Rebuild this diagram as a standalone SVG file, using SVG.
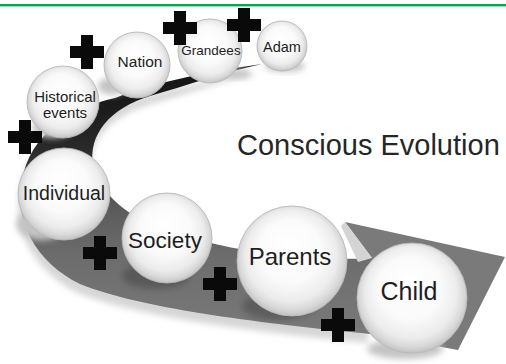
<svg xmlns="http://www.w3.org/2000/svg" xmlns:xlink="http://www.w3.org/1999/xlink" width="506" height="364" viewBox="0 0 506 364">
  <style>
    .lbl { font-family: "Liberation Sans", Arial, sans-serif; fill: #1e1e1e; text-anchor: middle; }
    .title { font-family: "Liberation Sans", Arial, sans-serif; fill: #262626; font-size: 29px; }
    .sphere { fill: url(#sphereFill); stroke: #b9b9b9; stroke-width: 0.9; }
    .plus { fill: #0a0a0a; }
    .shade-light { fill: #c4c4c4; filter: url(#soft); }
    .shade-dark { fill: #000; opacity: 0.2; filter: url(#soft); }
  </style>
  <defs>
    <radialGradient id="sphereFill" cx="50%" cy="48%" r="52%" fx="46%" fy="32%">
      <stop offset="0" stop-color="#ffffff"/>
      <stop offset="0.55" stop-color="#fafafa"/>
      <stop offset="0.8" stop-color="#ececec"/>
      <stop offset="0.92" stop-color="#d8d8d8"/>
      <stop offset="1" stop-color="#c2c2c2"/>
    </radialGradient>
    <linearGradient id="bandFill" gradientUnits="userSpaceOnUse" x1="0" y1="60" x2="0" y2="340">
      <stop offset="0" stop-color="#151515"/>
      <stop offset="0.18" stop-color="#1c1c1c"/>
      <stop offset="0.32" stop-color="#2a2a2a"/>
      <stop offset="0.52" stop-color="#5a5a5a"/>
      <stop offset="0.71" stop-color="#6d6d6d"/>
      <stop offset="1" stop-color="#7a7a7a"/>
    </linearGradient>
    <filter id="soft" x="-30%" y="-30%" width="160%" height="160%">
      <feGaussianBlur stdDeviation="3"/>
    </filter>
    <path id="plus" d="M -6 -17 H 6 V -6 H 17 V 6 H 6 V 17 H -6 V 6 H -17 V -6 H -6 Z"/>
    <path id="bandShape" d="M 262 64 C 220 70 160 80 115 98 C 70 108 30 135 22 180 C 14 220 35 262 80 284 C 140 308 250 322 370 334 L 372 258 C 310 262 230 252 165 230 C 130 218 100 195 93 165 C 88 135 110 108 150 96 C 185 86 225 72 262 64 Z"/>
  </defs>

  <rect width="506" height="364" fill="#ffffff"/>
  <rect x="0" y="4" width="506" height="2.4" fill="#16a04e"/>

  <g id="title">
    <text class="title" x="237" y="155">Conscious Evolution</text>
  </g>

  <!-- curved arrow band with its soft ground shadow -->
  <g id="connectors">
    <use xlink:href="#bandShape" transform="translate(-2 9)" fill="#d6d6d6" filter="url(#soft)"/>
    <use xlink:href="#bandShape" fill="url(#bandFill)"/>
    <polygon points="345,222 505,257 458,350 370,334 372,258" fill="#7a7a7a"/>
    <polygon points="345,222 372,258 358,262 341,226" fill="#d4d4d4"/>
  </g>

  <g id="node-adam">
    <ellipse class="shade-light" cx="285" cy="66" rx="20" ry="6"/>
    <circle class="sphere" cx="282" cy="46" r="25"/>
    <text class="lbl" x="282" y="52" font-size="14.5">Adam</text>
  </g>

  <g id="node-grandees">
    <ellipse class="shade-light" cx="236" cy="74" rx="16" ry="5"/>
    <circle class="sphere" cx="210" cy="51" r="32"/>
    <text class="lbl" x="211" y="55" font-size="13.5" fill="#333">Grandees</text>
  </g>

  <g id="node-nation">
    <ellipse class="shade-light" cx="112" cy="86" rx="14" ry="9"/>
    <circle class="sphere" cx="137" cy="65" r="33"/>
    <text class="lbl" x="140" y="67" font-size="15.5">Nation</text>
  </g>

  <g id="node-historical-events">
    <ellipse class="shade-light" cx="52" cy="128" rx="20" ry="10"/>
    <circle class="sphere" cx="63" cy="102" r="36"/>
    <text class="lbl" x="65" y="102" font-size="15" fill="#333">Historical</text>
    <text class="lbl" x="65" y="118" font-size="15" fill="#333">events</text>
  </g>

  <g id="node-individual">
    <ellipse class="shade-light" cx="42" cy="224" rx="26" ry="16"/>
    <circle class="sphere" cx="64" cy="194" r="46"/>
    <text class="lbl" x="64" y="200" font-size="19.5">Individual</text>
  </g>

  <g id="node-society">
    <ellipse class="shade-dark" cx="156" cy="276" rx="34" ry="13"/>
    <circle class="sphere" cx="167" cy="238" r="45"/>
    <text class="lbl" x="165" y="248" font-size="22.5">Society</text>
  </g>

  <g id="node-parents">
    <ellipse class="shade-dark" cx="278" cy="306" rx="36" ry="14"/>
    <circle class="sphere" cx="292" cy="261" r="55"/>
    <text class="lbl" x="290" y="265" font-size="24">Parents</text>
  </g>

  <g id="node-child">
    <ellipse class="shade-light" cx="405" cy="349" rx="38" ry="10"/>
    <circle class="sphere" cx="412" cy="298" r="55"/>
    <text class="lbl" x="409" y="300" font-size="25">Child</text>
  </g>

  <!-- plus signs between the spheres -->
  <g id="plus-signs" class="plus">
    <use xlink:href="#plus" x="180" y="28"/>
    <use xlink:href="#plus" x="244" y="25"/>
    <use xlink:href="#plus" x="87" y="52"/>
    <use xlink:href="#plus" x="25" y="137"/>
    <use xlink:href="#plus" x="100" y="253"/>
    <use xlink:href="#plus" x="220" y="284"/>
    <use xlink:href="#plus" x="338" y="325"/>
  </g>
</svg>
